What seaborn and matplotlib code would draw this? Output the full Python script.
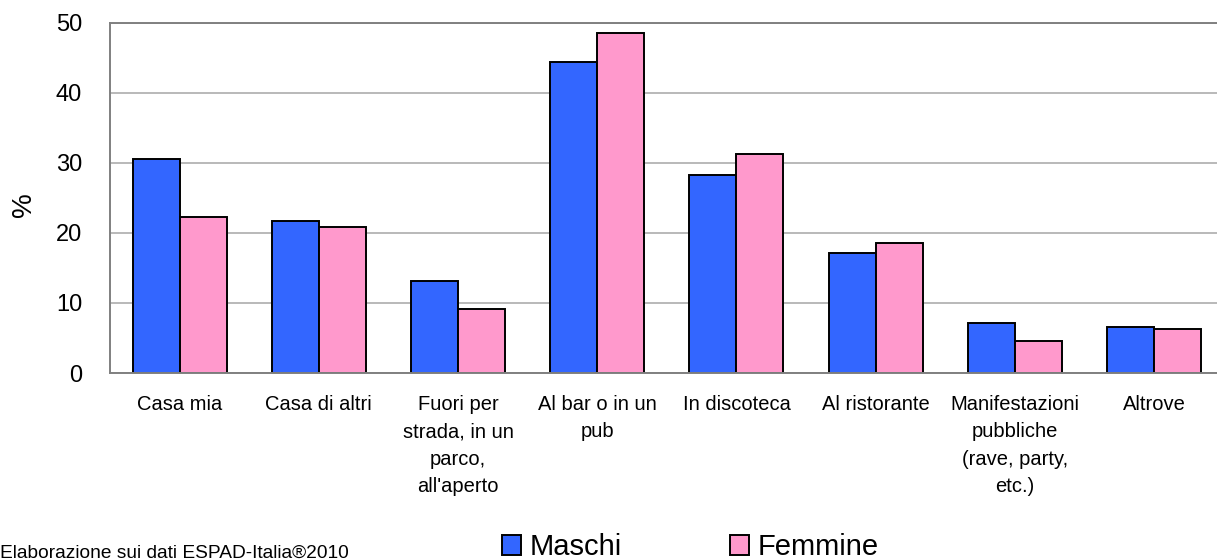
import pandas as pd
import matplotlib.pyplot as plt
import seaborn as sns
from matplotlib.patches import Patch
from matplotlib.ticker import FixedLocator

# --- data ---
luoghi = [
    "Casa mia",
    "Casa di altri",
    "Fuori per\nstrada, in un\nparco,\nall'aperto",
    "Al bar o in un\npub",
    "In discoteca",
    "Al ristorante",
    "Manifestazioni\npubbliche\n(rave, party,\netc.)",
    "Altrove",
]
maschi = [30.5, 21.7, 13.1, 44.3, 28.2, 17.1, 7.1, 6.6]
femmine = [22.2, 20.8, 9.1, 48.5, 31.3, 18.5, 4.6, 6.3]
serie = ["Maschi", "Femmine"]
colori = ["#3366FF", "#FF99CC"]
y_ticks = [0, 10, 20, 30, 40, 50]

df = pd.DataFrame({
    "luogo": luoghi * 2,
    "pct": maschi + femmine,
    "sesso": [serie[0]] * len(luoghi) + [serie[1]] * len(luoghi),
})

sns.set_style("white")
plt.rcParams["font.family"] = ["Liberation Sans", "DejaVu Sans"]
plt.rcParams["text.color"] = "black"
plt.rcParams["xtick.labelcolor"] = "black"
plt.rcParams["ytick.labelcolor"] = "black"

W, H = 1217, 560
fig = plt.figure(figsize=(W / 100, H / 100), dpi=100)
# plot area runs slightly past the right border, as in the original
ax = fig.add_axes([110 / W, (H - 373) / H, (1223.7 - 110) / W, (373 - 22.5) / H])

sns.barplot(
    data=df, x="luogo", y="pct", hue="sesso", palette=colori,
    width=0.675, edgecolor="black", linewidth=1.4, saturation=1,
    legend=False, ax=ax,
)

ax.set_xlim(-0.5, len(luoghi) - 0.5)
ax.set_ylim(0, 50)
ax.set_yticks(y_ticks)
ax.set_xlabel("")
ax.set_ylabel("")

# grid and frame
ax.set_axisbelow(True)
ax.yaxis.grid(True, color="#B3B3B3", linewidth=1.3)
for side in ["left", "bottom", "top"]:
    ax.spines[side].set_color("#808080")
    ax.spines[side].set_linewidth(1.4)
ax.spines["right"].set_visible(False)

ax.tick_params(axis="y", length=10, width=1.2, color="#808080", pad=10, labelsize=17)
ax.tick_params(axis="x", which="major", length=0, pad=16, labelsize=14.5)
ax.xaxis.set_minor_locator(FixedLocator([i - 0.5 for i in range(len(luoghi) + 1)]))
ax.tick_params(axis="x", which="minor", length=5, width=1.0, color="#808080")
for lab in ax.get_xticklabels():
    lab.set_linespacing(1.55)
    lab.set_verticalalignment("top")

fig.text(24 / W, 1 - 205 / H, "%", rotation=90, ha="center", va="center", fontsize=20)

fig.text(0.0, 0.004, "Elaborazione sui dati ESPAD-Italia®2010",
         ha="left", va="baseline", fontsize=13.8)

handles = [Patch(facecolor=c, edgecolor="black", linewidth=1.4) for c in colori]
fig.legend(
    handles, serie, loc="lower left", bbox_to_anchor=(502 / W, -0.002),
    ncol=2, frameon=False, fontsize=21, handlelength=0.65, handleheight=0.65,
    handletextpad=0.3, columnspacing=3.7, borderpad=0, borderaxespad=0,
)

plt.savefig("out.png", dpi=100)
